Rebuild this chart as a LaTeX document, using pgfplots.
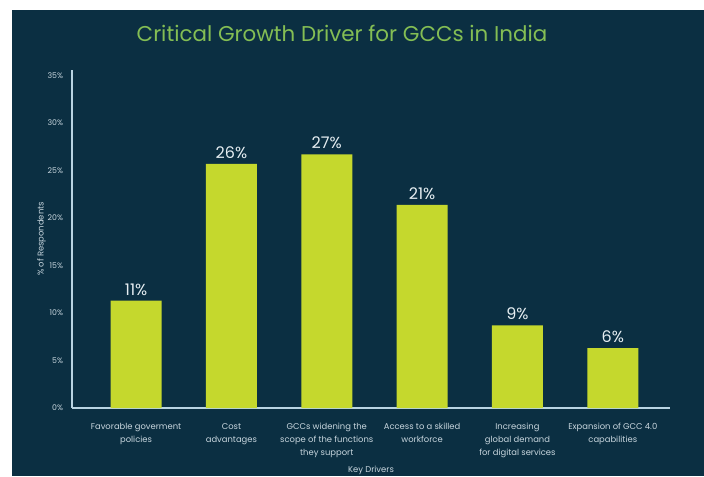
\documentclass[border=0pt]{standalone}
\usepackage{pgfplots}
\pgfplotsset{compat=1.18}
\usepackage{pgfplotstable}
\usepackage{fontspec}
\setmainfont{Poppins}
\definecolor{bg}{RGB}{11,47,66}
\definecolor{barc}{RGB}{197,216,45}
\definecolor{titlec}{RGB}{132,190,84}
\definecolor{axc}{RGB}{185,212,226}
\definecolor{txt}{RGB}{200,214,222}
\definecolor{lbl}{RGB}{230,238,242}
\pgfplotstableread{
x y lab
0 11.3 11\%
1 25.7 26\%
2 26.7 27\%
3 21.4 21\%
4 8.7 9\%
5 6.3 6\%
}\drivers
\begin{document}
\begin{tikzpicture}
\path[use as bounding box] (0,0) rectangle (352pt,238pt);
\fill[white] (0,0) rectangle (352pt,238pt);
\fill[bg] (6pt,0) rectangle (352pt,233pt);
\node[text=titlec, font=\fontsize{10.7}{12}\selectfont] at (171pt,221.5pt) {Critical Growth Driver for GCCs in India};
\begin{axis}[
  at={(36pt,34pt)}, anchor=south west,
  scale only axis, width=299pt, height=169pt,
  xmin=-0.672, xmax=5.6, ymin=0, ymax=35.6,
  axis x line*=bottom, axis y line*=left,
  axis line style={axc, line width=0.8pt, -},
  major tick length=0pt,
  ytick={0,5,...,35},
  yticklabels={0\%,5\%,10\%,15\%,20\%,25\%,30\%,35\%},
  yticklabel style={text=txt, font=\fontsize{3.9}{4}\selectfont, xshift=-1pt},
  xtick={0,...,5},
  xticklabels={Favorable goverment\\policies, Cost\\advantages, GCCs widening the\\scope of the functions\\they support, Access to a skilled\\workforce, Increasing\\global demand\\for digital services, Expansion of GCC 4.0\\capabilities},
  xticklabel style={text=txt, align=center, font=\fontsize{4.2}{6.6}\selectfont, yshift=-4pt},
  xlabel={Key Drivers},
  xlabel style={at={(axis description cs:0.5,0)}, anchor=center, yshift=-31pt, text=txt, font=\fontsize{4.2}{5}\selectfont},
  ylabel={\% of Respondents},
  ylabel style={text=txt, font=\fontsize{4.2}{5}\selectfont, yshift=-6pt},
  /pgf/number format/assume math mode=true,
  clip=false,
]
\addplot[ybar, bar width=0.535, fill=barc, draw=none,
  point meta=explicit symbolic,
  nodes near coords,
  nodes near coords style={text=lbl, font=\fontsize{8}{9}\selectfont, inner sep=1pt, yshift=1.5pt}]
  table[x=x, y=y, meta=lab] {\drivers};
\end{axis}
\end{tikzpicture}
\end{document}
